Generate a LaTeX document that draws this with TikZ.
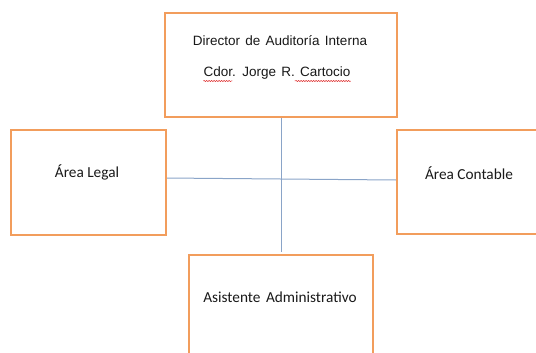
\documentclass[tikz,border=0pt]{standalone}
\usepackage{fontspec}
\setmainfont{Carlito}
\newfontfamily\arialf{Liberation Sans}[WordSpace=1.4]
\usetikzlibrary{decorations.pathmorphing}
\definecolor{boxorange}{HTML}{F29D5C}
\definecolor{linkblue}{HTML}{8AA4C8}
\definecolor{spellred}{HTML}{E03030}
\tikzset{
  orgbox/.style={draw=boxorange, line width=2pt, fill=white, inner sep=0pt},
  orgtext/.style={font=\fontsize{15.3}{18}\selectfont, text=black!90, inner sep=0pt},
  toptext/.style={font=\arialf\fontsize{13.5}{16}\selectfont, text=black!90, inner sep=0pt},
  link/.style={draw=linkblue, line width=1pt},
  squiggle/.style={draw=spellred, line width=0.5pt, decorate, decoration={snake, amplitude=0.6pt, segment length=2.5pt}}
}
\begin{document}
\begin{tikzpicture}[x=1pt,y=-1pt]
\useasboundingbox (0,0) rectangle (536,353);
\begin{scope}
\clip (0,0) rectangle (536,353);
% connectors
\coordinate (vtop) at (281,116);
\coordinate (vbot) at (281,252);
\coordinate (hleft) at (165,178);
\coordinate (hright) at (396,180);
\draw[link] (vtop) -- (vbot);
\draw[link] (hleft) -- (hright);
% boxes
\node[orgbox, minimum width=232pt, minimum height=104pt, anchor=north west] (dir) at (164,12) {};
\node[orgbox, minimum width=155pt, minimum height=105pt, anchor=north west] (legal) at (10,129) {};
\node[orgbox, minimum width=150pt, minimum height=104pt, anchor=north west] (cont) at (396,129) {};
\node[orgbox, minimum width=184pt, minimum height=110pt, anchor=north west] (asis) at (188,254) {};
% texts
\node[toptext] (t1) at (280,41) {Director de Auditoría Interna};
\node[toptext] (t2) at (277,73) {Cdor. Jorge R. Cartocio};
\node[orgtext] (t3) at (87,172) {Área Legal};
\node[orgtext] (t4) at (469,173) {Área Contable};
\node[orgtext] (t5) at (280,297) {Asistente\hspace{5.5pt}Administrativo};
% spell-check underlines
\draw[squiggle] ([yshift=-1.5pt]t2.south west) -- ++(29,0);
\draw[squiggle] ([yshift=-1.5pt]t2.south east) -- ++(-56,0);
\end{scope}
\end{tikzpicture}
\end{document}
